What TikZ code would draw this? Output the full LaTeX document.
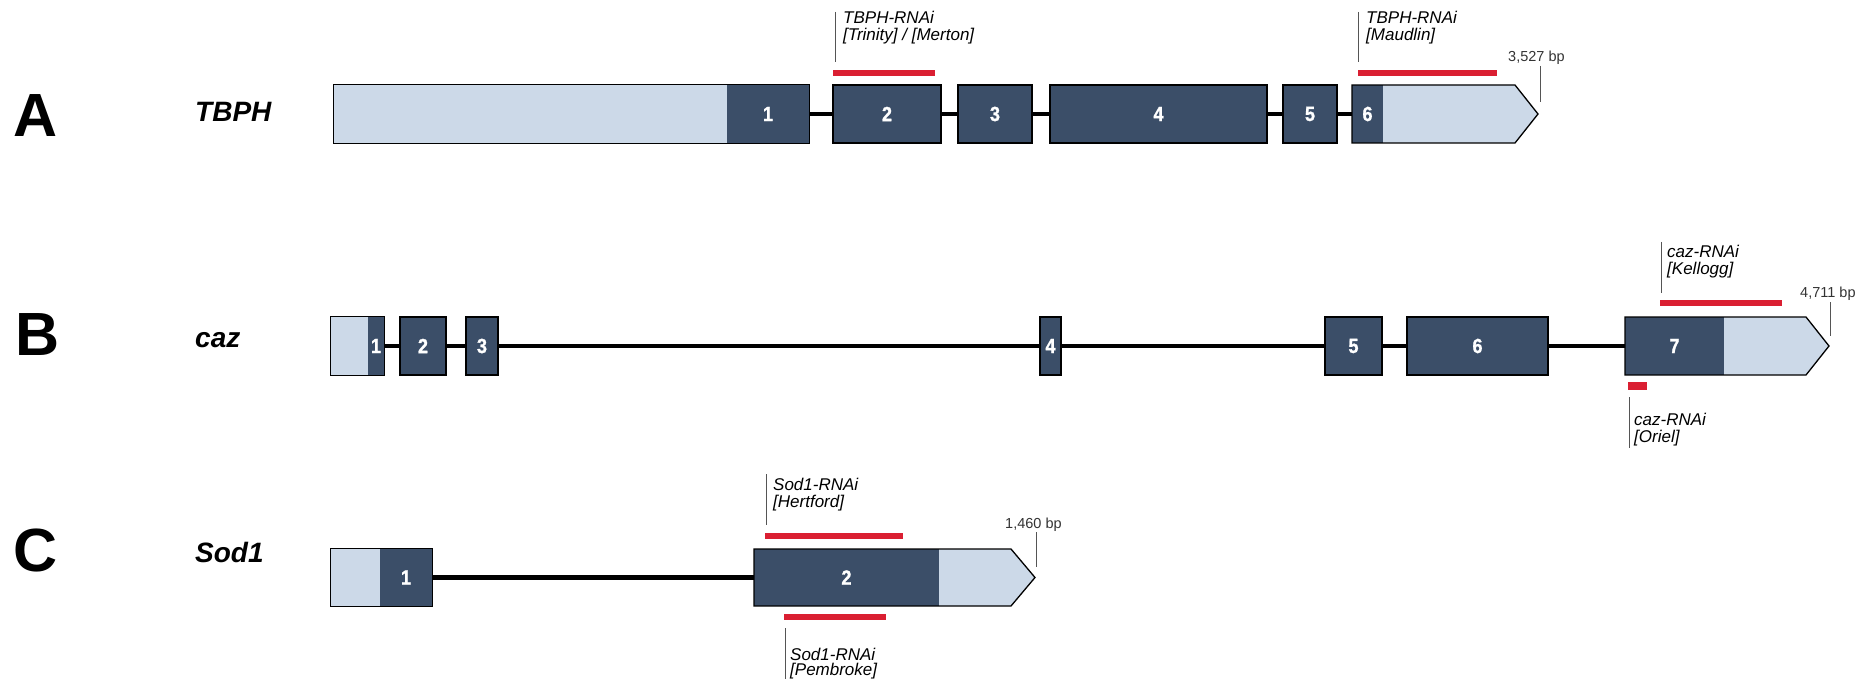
\documentclass[tikz,border=0pt]{standalone}
\usepackage{fontspec}
\setmainfont{Liberation Sans}
\newfontfamily\numfont[FakeBold=1.3]{Liberation Sans Bold}
\usepackage{graphicx}
\definecolor{exdark}{HTML}{3B4E68}
\definecolor{utrlight}{HTML}{CCD9E8}
\definecolor{rnared}{HTML}{DA1F32}
\definecolor{leadgray}{HTML}{555555}
\newcommand\cnum[1]{\scalebox{0.88}[1]{#1}}
\tikzset{
  exonfill/.style={rectangle, fill=exdark, inner sep=0pt, minimum height=58pt, text=white, font=\fontsize{20.5}{21}\numfont},
  exonbox/.style={exonfill, draw=black, line width=1.3pt},
  utrbox/.style={rectangle, fill=utrlight, inner sep=0pt, minimum height=58pt},
  outline/.style={draw=black, line width=1.3pt, line join=miter},
  intron/.style={draw=black, line width=4.5pt},
  rnabar/.style={rectangle, fill=rnared, inner sep=0pt, minimum height=6pt},
  leader/.style={draw=leadgray, line width=1pt},
  annot/.style={anchor=base west, inner sep=0pt, font=\fontsize{17}{17}\selectfont\itshape},
  bplabel/.style={anchor=base west, inner sep=0pt, text=black!80, font=\fontsize{14.5}{15}\selectfont},
  panel/.style={anchor=base west, inner sep=0pt, font=\fontsize{61}{61}\selectfont\bfseries},
  gene/.style={anchor=base west, inner sep=0pt, font=\fontsize{28}{28}\selectfont\bfseries\itshape}
}
\begin{document}
\begin{tikzpicture}[x=1pt,y=-1pt]
\useasboundingbox (0,0) rectangle (1872,679);

% ---------------- Panel labels and gene names
\node[panel] (pA) at (13,137) {A};
\node[panel] (pB) at (15,355) {B};
\node[panel] (pC) at (13,571) {C};
\node[gene] (gA) at (195,122) {TBPH};
\node[gene] (gB) at (195,347) {caz};
\node[gene] (gC) at (195,562) {Sod1};

% ================= Row A : TBPH
\node[utrbox, minimum width=475pt] (a1u) at (571.5,114) {};
\node[exonfill, minimum width=82pt] (a1) at (768,114) {\cnum{1}};
\draw[outline] (a1u.north west) rectangle (a1.south east);
\node[exonbox, minimum width=108pt] (a2) at (887,114) {\cnum{2}};
\node[exonbox, minimum width=74pt] (a3) at (995,114) {\cnum{3}};
\node[exonbox, minimum width=217pt] (a4) at (1158.5,114) {\cnum{4}};
\node[exonbox, minimum width=54pt] (a5) at (1310,114) {\cnum{5}};
\coordinate (a6nw) at (1352,85);
\coordinate (a6ne) at (1515,85);
\coordinate (a6tip) at (1538,114);
\coordinate (a6se) at (1515,143);
\coordinate (a6sw) at (1352,143);
\fill[utrlight] (a6nw) -- (a6ne) -- (a6tip) -- (a6se) -- (a6sw) -- cycle;
\node[exonfill, minimum width=31pt] (a6) at (1367.5,114) {\cnum{6}};
\draw[outline] (a6nw) -- (a6ne) -- (a6tip) -- (a6se) -- (a6sw) -- cycle;
\draw[intron] (a1.east) -- (a2.west);
\draw[intron] (a2.east) -- (a3.west);
\draw[intron] (a3.east) -- (a4.west);
\draw[intron] (a4.east) -- (a5.west);
\draw[intron] (a5.east) -- (a6.west);

\node[rnabar, minimum width=102pt] (barA1) at (884,73) {};
\node[rnabar, minimum width=139pt] (barA2) at (1427.5,73) {};
\coordinate (lA1t) at (835,12); \coordinate (lA1b) at (835,62);
\draw[leader] (lA1t) -- (lA1b);
\node[annot] (tA1a) at (843,24) {TBPH-RNAi};
\node[annot] (tA1b) at (843,41) {[Trinity] / [Merton]};
\coordinate (lA2t) at (1358,12); \coordinate (lA2b) at (1358,62);
\draw[leader] (lA2t) -- (lA2b);
\node[annot] (tA2a) at (1366,24) {TBPH-RNAi};
\node[annot] (tA2b) at (1366,41) {[Maudlin]};
\node[bplabel] (bpA) at (1508,62) {3,527 bp};
\coordinate (bpAt) at (1540,66); \coordinate (bpAb) at (1540,102);
\draw[leader] (bpAt) -- (bpAb);

% ================= Row B : caz
\node[utrbox, minimum width=53pt] (b1u) at (357.5,346) {};
\node[exonfill, minimum width=16pt] (b1) at (376,346) {\cnum{1}};
\draw[outline] (b1u.north west) rectangle (b1.south east);
\node[exonbox, minimum width=46pt] (b2) at (423,346) {\cnum{2}};
\node[exonbox, minimum width=32pt] (b3) at (482,346) {\cnum{3}};
\node[exonbox, minimum width=21pt] (b4) at (1050.5,346) {\cnum{4}};
\node[exonbox, minimum width=57pt] (b5) at (1353.5,346) {\cnum{5}};
\node[exonbox, minimum width=141pt] (b6) at (1477.5,346) {\cnum{6}};
\coordinate (b7nw) at (1625,317);
\coordinate (b7ne) at (1806,317);
\coordinate (b7tip) at (1829,346);
\coordinate (b7se) at (1806,375);
\coordinate (b7sw) at (1625,375);
\fill[utrlight] (b7nw) -- (b7ne) -- (b7tip) -- (b7se) -- (b7sw) -- cycle;
\node[exonfill, minimum width=99pt] (b7) at (1674.5,346) {\cnum{7}};
\draw[outline] (b7nw) -- (b7ne) -- (b7tip) -- (b7se) -- (b7sw) -- cycle;
\draw[intron] (b1.east) -- (b2.west);
\draw[intron] (b2.east) -- (b3.west);
\draw[intron] (b3.east) -- (b4.west);
\draw[intron] (b4.east) -- (b5.west);
\draw[intron] (b5.east) -- (b6.west);
\draw[intron] (b6.east) -- (b7.west);

\node[rnabar, minimum width=122pt] (barB1) at (1721,303) {};
\node[rnabar, minimum width=19pt, minimum height=8pt] (barB2) at (1637.5,386) {};
\coordinate (lB1t) at (1661,242); \coordinate (lB1b) at (1661,293);
\draw[leader] (lB1t) -- (lB1b);
\node[annot] (tB1a) at (1667,258) {caz-RNAi};
\node[annot] (tB1b) at (1667,275) {[Kellogg]};
\coordinate (lB2t) at (1629,397); \coordinate (lB2b) at (1629,448);
\draw[leader] (lB2t) -- (lB2b);
\node[annot] (tB2a) at (1634,425) {caz-RNAi};
\node[annot] (tB2b) at (1634,442) {[Oriel]};
\node[bplabel] (bpB) at (1800,298) {4,711 bp};
\coordinate (bpBt) at (1830,302); \coordinate (bpBb) at (1830,336);
\draw[leader] (bpBt) -- (bpBb);

% ================= Row C : Sod1
\node[utrbox, minimum width=101pt, minimum height=57pt] (c1u) at (381.5,577.5) {};
\node[exonfill, minimum width=52pt, minimum height=57pt] (c1) at (406,577.5) {\cnum{1}};
\draw[outline] (c1u.north west) rectangle (c1.south east);
\coordinate (c2nw) at (754,549);
\coordinate (c2ne) at (1011,549);
\coordinate (c2tip) at (1035,577.5);
\coordinate (c2se) at (1011,606);
\coordinate (c2sw) at (754,606);
\fill[utrlight] (c2nw) -- (c2ne) -- (c2tip) -- (c2se) -- (c2sw) -- cycle;
\node[exonfill, minimum width=185pt, minimum height=57pt] (c2) at (846.5,577.5) {\cnum{2}};
\draw[outline] (c2nw) -- (c2ne) -- (c2tip) -- (c2se) -- (c2sw) -- cycle;
\draw[intron] (c1.east) -- (c2.west);

\node[rnabar, minimum width=138pt] (barC1) at (834,536) {};
\node[rnabar, minimum width=102pt] (barC2) at (835,617) {};
\coordinate (lC1t) at (766,474); \coordinate (lC1b) at (766,525);
\draw[leader] (lC1t) -- (lC1b);
\node[annot] (tC1a) at (773,490) {Sod1-RNAi};
\node[annot] (tC1b) at (773,507) {[Hertford]};
\coordinate (lC2t) at (785,628); \coordinate (lC2b) at (785,679);
\draw[leader] (lC2t) -- (lC2b);
\node[annot] (tC2a) at (790,660) {Sod1-RNAi};
\node[annot] (tC2b) at (790,675) {[Pembroke]};
\node[bplabel] (bpC) at (1005,528) {1,460 bp};
\coordinate (bpCt) at (1036,532); \coordinate (bpCb) at (1036,567);
\draw[leader] (bpCt) -- (bpCb);
\end{tikzpicture}
\end{document}
